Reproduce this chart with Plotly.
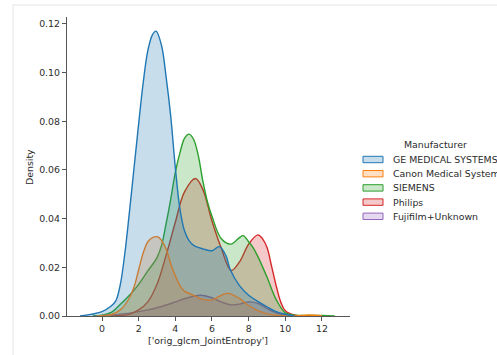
import plotly.graph_objects as go

# ---------------- data ----------------
names = ["GE MEDICAL SYSTEMS", "Canon Medical Systems", "SIEMENS", "Philips", "Fujifilm+Unknown"]

ge_x = [-1.2, -0.5, 0.0, 0.5, 0.75, 1.0, 1.25, 1.5, 1.75, 2.0, 2.25, 2.5, 2.75, 2.95, 3.25, 3.5, 3.75,
        4.0, 4.25, 4.5, 4.75, 5.0, 5.5, 6.0, 6.4, 6.75, 7.0, 7.5, 8.0, 8.5, 9.0, 9.5, 10.0, 10.5]
ge_y = [0.0, 0.0008, 0.0018, 0.0041, 0.0062, 0.013, 0.026, 0.043, 0.061, 0.079, 0.096, 0.109, 0.1155,
        0.117, 0.111, 0.098, 0.082, 0.061, 0.044, 0.035, 0.031, 0.029, 0.0276, 0.0268, 0.0285, 0.025,
        0.019, 0.0125, 0.0085, 0.006, 0.0038, 0.0018, 0.0007, 0.0]

canon_x = [-0.3, 0.5, 1.0, 1.5, 1.75, 2.0, 2.25, 2.5, 2.75, 3.05, 3.25, 3.5, 3.75, 4.0, 4.25, 4.5, 5.0,
           5.5, 6.0, 6.5, 6.9, 7.5, 8.0, 8.5, 9.0, 9.5, 10.0, 10.6, 11.3, 12.0]
canon_y = [0.0, 0.0006, 0.0025, 0.0075, 0.012, 0.019, 0.026, 0.0305, 0.0322, 0.0325, 0.031, 0.0275,
           0.0215, 0.0165, 0.0125, 0.0102, 0.0085, 0.0068, 0.0066, 0.0085, 0.0093, 0.0072, 0.0043,
           0.0022, 0.001, 0.0003, 0.0001, 0.0, 0.0004, 0.0]

siemens_x = [-0.5, 0.0, 0.5, 1.0, 1.5, 2.0, 2.5, 3.0, 3.25, 3.5, 3.75, 4.0, 4.25, 4.5, 4.75, 5.0, 5.25,
             5.5, 5.75, 6.0, 6.5, 7.0, 7.25, 7.5, 7.7, 8.0, 8.25, 8.5, 9.0, 9.5, 10.0, 10.5, 11.0, 12.0, 12.7]
siemens_y = [0.0, 0.0003, 0.0015, 0.0048, 0.0085, 0.013, 0.0185, 0.024, 0.029, 0.038, 0.048, 0.059,
             0.067, 0.073, 0.0747, 0.0725, 0.066, 0.0555, 0.047, 0.041, 0.0318, 0.0295, 0.0305, 0.0322,
             0.033, 0.0305, 0.028, 0.0245, 0.016, 0.0068, 0.0013, 0.0003, 0.0002, 0.0002, 0.0]

philips_x = [0.5, 1.0, 1.5, 2.0, 2.5, 3.0, 3.5, 4.0, 4.5, 5.1, 5.5, 6.0, 6.5, 7.05, 7.5, 8.0, 8.5,
             8.75, 9.0, 9.25, 9.5, 9.75, 10.0, 10.5, 11.0]
philips_y = [0.0, 0.0002, 0.0008, 0.0025, 0.0058, 0.013, 0.025, 0.0385, 0.051, 0.0565, 0.052, 0.039,
             0.028, 0.0187, 0.0222, 0.0295, 0.0333, 0.0318, 0.0282, 0.0205, 0.0125, 0.0058, 0.0022,
             0.0004, 0.0]

fuji_x = [-0.5, 0.0, 0.5, 1.0, 1.5, 2.0, 2.5, 3.0, 3.5, 4.0, 4.5, 5.0, 5.4, 6.0, 6.5, 7.0, 7.5, 8.0,
          8.5, 9.0, 9.5, 10.0, 10.5]
fuji_y = [0.0, 0.0001, 0.0004, 0.0008, 0.0012, 0.0018, 0.0025, 0.0034, 0.0045, 0.0058, 0.0071, 0.0081,
          0.0085, 0.0075, 0.0058, 0.0046, 0.0049, 0.0058, 0.0052, 0.0031, 0.0013, 0.0004, 0.0]

series_x = [ge_x, canon_x, siemens_x, philips_x, fuji_x]
series_y = [ge_y, canon_y, siemens_y, philips_y, fuji_y]

x_ticks = [0, 2, 4, 6, 8, 10, 12]
y_ticks = [0.00, 0.02, 0.04, 0.06, 0.08, 0.10, 0.12]
x_title = "['orig_glcm_JointEntropy']"
y_title = "Density"
legend_title = "Manufacturer"

# ---------------- styles ----------------
colors = ["#1f77b4", "#ff7f0e", "#2ca02c", "#d62728", "#9467bd"]


def rgba(h, a):
    h = h.lstrip("#")
    return "rgba(%d,%d,%d,%s)" % (int(h[0:2], 16), int(h[2:4], 16), int(h[4:6], 16), a)


W, H = 497, 355
L, R, T, B = 67, 147, 17, 39
PW, PH = W - L - R, H - T - B


def px(xp):
    return (xp - L) / PW


def py(yp):
    return (H - B - yp) / PH


FONT = "DejaVu Sans"
TXT = "#2b2b2b"
FS = 9.4

fig = go.Figure()
# seaborn layers hues in reverse order (first hue ends on top)
order = list(range(len(names)))[::-1]
for i in order:
    c = colors[i]
    fig.add_trace(go.Scatter(
        x=series_x[i], y=series_y[i], name=names[i], mode="lines",
        line=dict(color=c, width=1.4, shape="spline", smoothing=1.0),
        fill="tozeroy", fillcolor=rgba(c, 0.25), showlegend=False, hoverinfo="skip"))

axis_common = dict(showline=True, linecolor="#555555", linewidth=1.2, ticks="outside", ticklen=4,
                   tickwidth=1, tickcolor="#555555", showgrid=False, zeroline=False,
                   tickfont=dict(family=FONT, size=FS, color=TXT))

fig.update_layout(
    width=W, height=H, margin=dict(l=L, r=R, t=T, b=B),
    paper_bgcolor="white", plot_bgcolor="white", showlegend=False,
    xaxis=dict(range=[-1.91, 13.53], tickvals=x_ticks, ticktext=[str(v) for v in x_ticks], **axis_common),
    yaxis=dict(range=[0, 0.1228], tickvals=y_ticks, ticktext=["%.2f" % v for v in y_ticks], **axis_common),
)

shapes = []
annotations = []
# notebook output frame (light)
shapes.append(dict(type="line", xref="paper", yref="paper", x0=px(13), x1=px(13), y0=py(5), y1=py(356),
                   line=dict(color="#e4e4e4", width=1)))
shapes.append(dict(type="line", xref="paper", yref="paper", x0=px(13), x1=px(498), y0=py(5), y1=py(5),
                   line=dict(color="#e4e4e4", width=1)))

# axis titles
annotations.append(dict(text=y_title, xref="paper", yref="paper", x=px(29), y=py(167), showarrow=False,
                        textangle=-90, font=dict(family=FONT, size=FS, color=TXT),
                        xanchor="center", yanchor="middle"))
annotations.append(dict(text=x_title, xref="paper", yref="paper", x=px(208), y=py(340), showarrow=False,
                        font=dict(family=FONT, size=FS, color=TXT), xanchor="center", yanchor="middle"))

# legend (manual, matplotlib style)
annotations.append(dict(text=legend_title, xref="paper", yref="paper", x=px(435), y=py(144), showarrow=False,
                        font=dict(family=FONT, size=FS, color=TXT), xanchor="center", yanchor="middle"))
row0, step = 159.5, 14.2
for i, (name, c) in enumerate(zip(names, colors)):
    yc = row0 + i * step
    shapes.append(dict(type="rect", xref="paper", yref="paper", x0=px(363), x1=px(383),
                       y0=py(yc - 3.2), y1=py(yc + 3.2), fillcolor=rgba(c, 0.25),
                       line=dict(color=c, width=1)))
    annotations.append(dict(text=name, xref="paper", yref="paper", x=px(391), y=py(yc), showarrow=False,
                            font=dict(family=FONT, size=FS, color=TXT), xanchor="left", yanchor="middle"))

fig.update_layout(shapes=shapes, annotations=annotations)
fig.write_html("out.html")
